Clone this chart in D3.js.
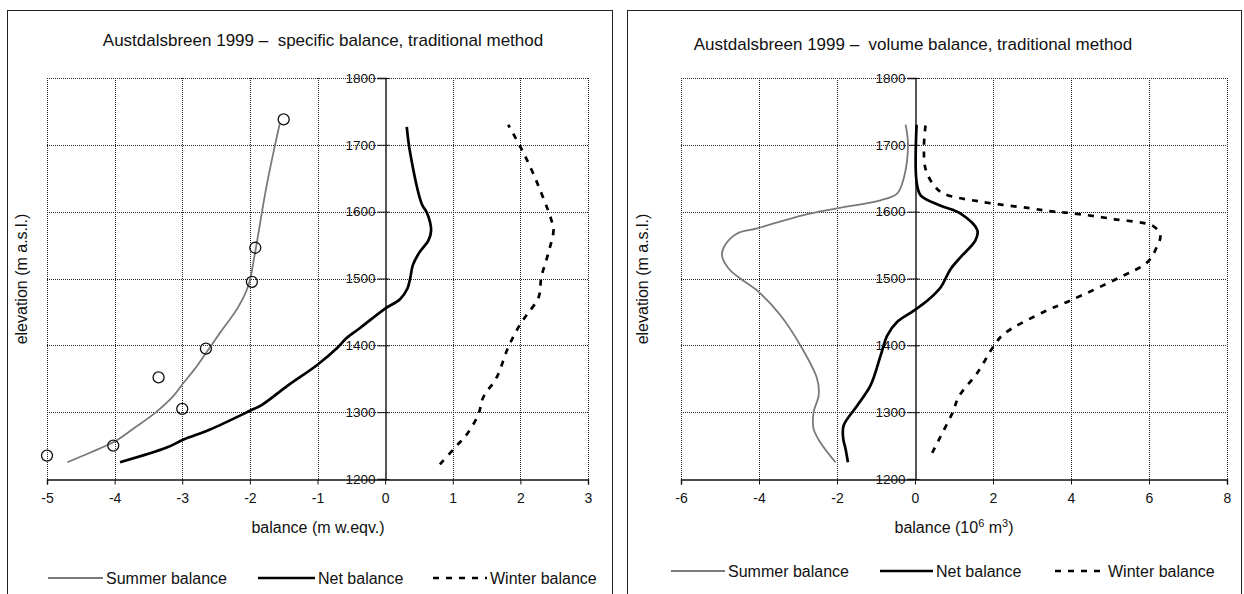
<!DOCTYPE html>
<html>
<head>
<meta charset="utf-8">
<script src="https://cdn.jsdelivr.net/npm/d3@7"></script>
<style>
  body { margin: 0; background: #fff; }
  svg text { font-family: "Liberation Sans", Arial, sans-serif; fill: #111; }
</style>
</head>
<body>
<svg id="chart" width="1244" height="594"></svg>
<script>
// Austdalsbreen 1999: [balance, elevation]
var elevTicks = [1200, 1300, 1400, 1500, 1600, 1700, 1800];

// left: specific balance (m w.eqv.)
var specTicks = [-5, -4, -3, -2, -1, 0, 1, 2, 3];
var specSummer = [[-4.70,1225],[-4.35,1240],[-4.0,1256],[-3.70,1277],[-3.40,1299],[-3.15,1322],[-2.98,1344],
  [-2.82,1364],[-2.68,1384],[-2.44,1419],[-2.18,1456],[-2.02,1490],[-1.93,1535],[-1.75,1640],[-1.56,1731]];
var specSummerObs = [[-5.0,1235],[-4.02,1250],[-3.0,1305],[-3.35,1352],[-2.65,1395],[-1.97,1495],[-1.92,1546],[-1.50,1738]];
var specNet = [[-3.92,1225],[-3.23,1247],[-2.98,1259],[-2.59,1274],[-2.0,1302],[-1.82,1311],[-1.45,1339],[-1.0,1371],
  [-0.71,1396],[-0.57,1411],[-0.37,1426],[0.0,1455],[0.22,1469],[0.33,1485],[0.37,1500],[0.41,1520],[0.50,1538],
  [0.64,1557],[0.68,1572],[0.62,1598],[0.54,1612],[0.37,1688],[0.32,1727]];
var specWinter = [[0.81,1222],[1.06,1250],[1.21,1267],[1.38,1297],[1.45,1322],[1.65,1352],[1.82,1397],[2.0,1432],
  [2.09,1445],[2.27,1472],[2.31,1502],[2.41,1537],[2.49,1572],[2.46,1587],[2.19,1657],[2.0,1697],[1.82,1730]];

// right: volume balance (10^6 m3)
var volTicks = [-6, -4, -2, 0, 2, 4, 6, 8];
var volSummer = [[-2.04,1225],[-2.43,1255],[-2.60,1275],[-2.60,1300],[-2.47,1325],[-2.51,1350],[-2.94,1400],
  [-3.45,1445],[-4.01,1480],[-4.48,1500],[-4.78,1515],[-4.95,1535],[-4.87,1550],[-4.57,1567],[-4.05,1575],
  [-2.86,1595],[-2.0,1605],[-0.88,1617],[-0.46,1627],[-0.28,1652],[-0.18,1700],[-0.24,1730]];
var volNet = [[-1.72,1225],[-1.78,1245],[-1.84,1260],[-1.83,1280],[-1.48,1310],[-1.14,1340],[-0.88,1385],
  [-0.71,1415],[-0.46,1435],[-0.03,1452],[0.32,1467],[0.66,1487],[0.91,1514],[1.17,1532],[1.55,1557],
  [1.60,1572],[1.17,1597],[0.66,1609],[0.15,1624],[0.04,1645],[0.04,1730]];
var volWinter = [[0.44,1239],[0.66,1264],[0.96,1299],[1.13,1324],[1.60,1359],[2.02,1399],[2.28,1417],[3.30,1450],
  [3.98,1467],[5.26,1502],[5.95,1524],[6.20,1547],[6.29,1564],[6.12,1578],[5.09,1589],[3.98,1598],[3.56,1600],
  [2.96,1605],[1.68,1615],[0.74,1627],[0.49,1639],[0.27,1664],[0.23,1699],[0.27,1729]];

var legendNames = ["Summer balance", "Net balance", "Winter balance"];

var svg = d3.select("#chart");

var SUMMER_COLOR = "#7a7a7a";

var drawPanel = function(opt) {
  var g = svg.append("g");

  g.append("rect")
    .attr("x", opt.box[0] + 0.5).attr("y", 10.5)
    .attr("width", opt.box[1] - opt.box[0]).attr("height", 600)
    .attr("fill", "none").attr("stroke", "#222").attr("stroke-width", 1);

  g.append("text")
    .attr("x", opt.titleX).attr("y", opt.titleY)
    .attr("text-anchor", "middle").style("font-size", "17px")
    .style("white-space", "pre")
    .text(opt.title);

  var x = d3.scaleLinear().domain(opt.xDomain).range(opt.xRange);
  var y = d3.scaleLinear().domain([1200, 1800]).range([479, 78]);

  // dotted grid
  g.append("g").selectAll("line.v")
    .data(opt.xTicks.filter(function(d) { return d !== 0; }))
    .enter().append("line")
    .attr("x1", function(d) { return Math.round(x(d)) + 0.5; })
    .attr("x2", function(d) { return Math.round(x(d)) + 0.5; })
    .attr("y1", y(1800)).attr("y2", y(1200))
    .attr("stroke", "#222").attr("stroke-dasharray", "1,1");
  g.append("g").selectAll("line.h")
    .data(elevTicks.filter(function(d) { return d !== 1200; }))
    .enter().append("line")
    .attr("x1", x.range()[0]).attr("x2", x.range()[1])
    .attr("y1", function(d) { return Math.round(y(d)) + 0.5; })
    .attr("y2", function(d) { return Math.round(y(d)) + 0.5; })
    .attr("stroke", "#222").attr("stroke-dasharray", "1,1");

  // x axis at 1200
  var xAxis = d3.axisBottom(x).tickValues(opt.xTicks).tickSize(5).tickPadding(9)
    .tickFormat(function(d) { return String(d); });
  var xa = g.append("g").attr("transform", "translate(0," + (Math.round(y(1200)) + 0.5) + ")").call(xAxis);
  xa.select(".domain").attr("stroke", "#111").attr("stroke-width", 1.4);
  xa.selectAll(".tick line").attr("stroke", "#111");
  xa.selectAll("text").style("font-size", "14px").attr("fill", "#111");

  // y axis at balance 0
  var yAxis = d3.axisLeft(y).tickValues(elevTicks).tickSize(8).tickPadding(2)
    .tickFormat(function(d) { return String(d); });
  var ya = g.append("g").attr("transform", "translate(" + (Math.round(x(0)) + 0.5) + ",0)").call(yAxis);
  ya.select(".domain").attr("stroke", "#111").attr("stroke-width", 1.4);
  ya.selectAll(".tick line").attr("x2", 4).attr("x1", -8).attr("stroke", "#111");
  ya.selectAll("text").style("font-size", "13.5px").attr("fill", "#111");

  // axis titles
  var xt = g.append("text")
    .attr("x", opt.xTitleX).attr("y", 533)
    .attr("text-anchor", "middle").style("font-size", "16px");
  opt.xTitle(xt);

  g.append("text")
    .attr("transform", "translate(" + opt.yTitleX + ",279) rotate(-90)")
    .attr("text-anchor", "middle").style("font-size", "16px")
    .text("elevation (m a.s.l.)");

  // series
  var line = d3.line()
    .x(function(d) { return x(d[0]); })
    .y(function(d) { return y(d[1]); })
    .curve(d3.curveCatmullRom.alpha(0.5));

  g.append("path").datum(opt.summer).attr("d", line)
    .attr("fill", "none").attr("stroke", SUMMER_COLOR).attr("stroke-width", 1.8);
  g.append("path").datum(opt.net).attr("d", line)
    .attr("fill", "none").attr("stroke", "#000").attr("stroke-width", 2.7);
  g.append("path").datum(opt.winter).attr("d", line)
    .attr("fill", "none").attr("stroke", "#000").attr("stroke-width", 2.7)
    .attr("stroke-dasharray", "6,7");

  if (opt.obs) {
    g.append("g").selectAll("circle")
      .data(opt.obs)
      .enter().append("circle")
      .attr("cx", function(d) { return x(d[0]); })
      .attr("cy", function(d) { return y(d[1]); })
      .attr("r", 5.5)
      .attr("fill", "none").attr("stroke", "#111").attr("stroke-width", 1.3);
  }

  // legend
  var lg = g.append("g").attr("transform", "translate(0," + opt.legendY + ")");
  var styles = [
    {stroke: SUMMER_COLOR, w: 1.8, dash: null},
    {stroke: "#000", w: 2.7, dash: null},
    {stroke: "#000", w: 2.7, dash: "6,7"}
  ];
  legendNames.forEach(function(name, i) {
    var pos = opt.legend[i];
    lg.append("line")
      .attr("x1", pos[0]).attr("x2", pos[1]).attr("y1", 0).attr("y2", 0)
      .attr("stroke", styles[i].stroke).attr("stroke-width", styles[i].w)
      .attr("stroke-dasharray", styles[i].dash);
    lg.append("text")
      .attr("x", pos[1] + 3).attr("y", 5.5)
      .style("font-size", "16px")
      .text(name);
  });
};

drawPanel({
  box: [7, 612],
  title: "Austdalsbreen 1999 \u2013  specific balance, traditional method",
  titleX: 323, titleY: 46,
  xDomain: [-5, 3], xRange: [47, 588], xTicks: specTicks,
  xTitleX: 318,
  xTitle: function(t) { t.text("balance (m w.eqv.)"); },
  yTitleX: 27,
  summer: specSummer, net: specNet, winter: specWinter, obs: specSummerObs,
  legendY: 578,
  legend: [[48, 103], [258, 315], [433, 487]]
});

drawPanel({
  box: [627, 1241],
  title: "Austdalsbreen 1999 \u2013  volume balance, traditional method",
  titleX: 913, titleY: 50,
  xDomain: [-6, 8], xRange: [681, 1227], xTicks: volTicks,
  xTitleX: 954,
  xTitle: function(t) {
    t.append("tspan").text("balance (10");
    t.append("tspan").attr("dy", -6).style("font-size", "11px").text("6");
    t.append("tspan").attr("dy", 6).text(" m");
    t.append("tspan").attr("dy", -6).style("font-size", "11px").text("3");
    t.append("tspan").attr("dy", 6).text(")");
  },
  yTitleX: 648,
  summer: volSummer, net: volNet, winter: volWinter, obs: null,
  legendY: 571,
  legend: [[671, 725], [880, 933], [1055, 1105]]
});
</script>
</body>
</html>
